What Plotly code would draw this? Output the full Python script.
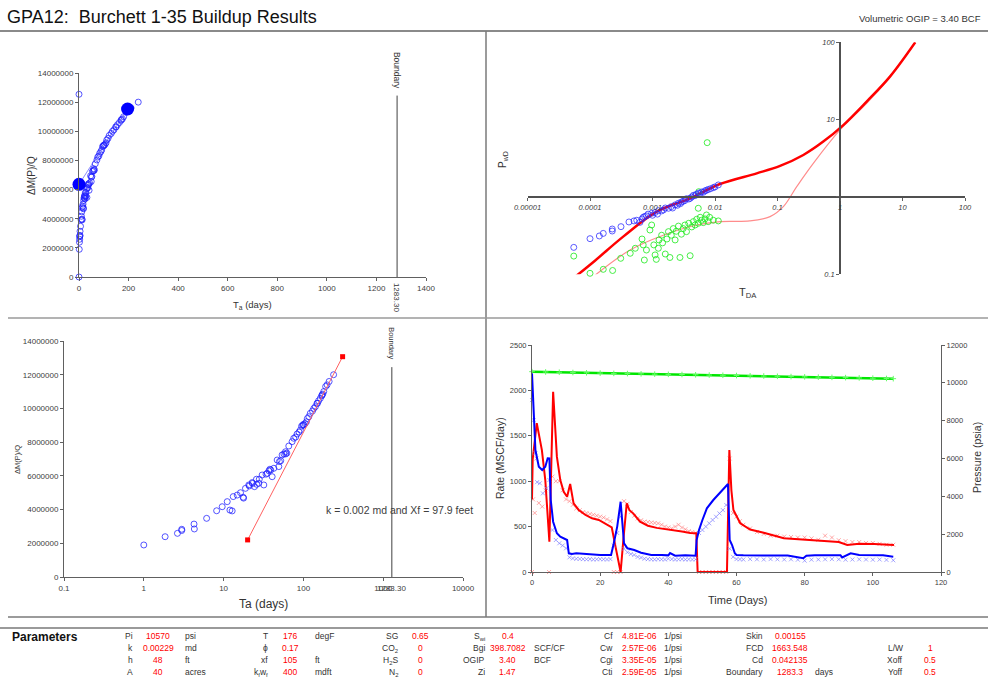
import math
import plotly.graph_objects as go

W, H = 988, 677
FONT = "Arial, Liberation Sans, sans-serif"

def X(px):
    return px / W

def Y(py):
    return 1 - py / H

# ---------------- data ----------------
# Shared Ta / dM(P)/Q points (panels 1 & 3)
ta_days = [0, 0, 1.0, 1.85, 2.64, 2.99, 2.99, 4.26, 4.3, 6.13, 8.18, 9.6, 11.1, 12.0, 12.8, 13.2,
           14.8, 16.3, 17.6, 17.8, 18.8, 20.7, 21.0, 22.8, 23.0, 24.4, 25.8, 26.0, 27.6, 28.0,
           30.4, 31.9, 34.0, 35.2, 37.0, 38.0, 39.0, 40.6, 42.6, 46.9, 49.2, 50.0, 52.0, 54.1,
           57.0, 59.6, 60.0, 62.0, 65.6, 72.2, 75.7, 80.0, 83.3, 88.0, 91.7, 95.0, 98.0, 100.0,
           101.0, 105.0, 109.0, 112.0, 117.0, 122.0, 130.0, 135.0, 141.0, 148.0, 150.0, 155.0,
           163.0, 170.0, 171.0, 175.0, 180.0, 190.0, 198.0, 210.0, 239.0]
dmpq = [12.54e6, 0, 1.90e6, 2.39e6, 2.59e6, 2.83e6, 2.76e6, 3.14e6, 2.85e6, 3.48e6, 3.93e6, 4.17e6,
        4.47e6, 3.97e6, 3.92e6, 4.77e6, 4.86e6, 5.00e6, 4.73e6, 4.68e6, 5.26e6, 5.46e6, 5.40e6,
        5.60e6, 5.55e6, 5.36e6, 5.80e6, 5.50e6, 5.56e6, 5.80e6, 6.05e6, 5.46e6, 6.10e6, 6.15e6,
        6.30e6, 6.39e6, 6.35e6, 5.95e6, 6.45e6, 6.94e6, 6.55e6, 6.85e6, 6.90e6, 7.24e6, 7.30e6,
        7.43e6, 7.30e6, 7.35e6, 7.77e6, 8.03e6, 8.23e6, 8.30e6, 8.48e6, 8.60e6, 8.72e6, 8.95e6,
        9.00e6, 9.05e6, 9.02e6, 9.10e6, 9.21e6, 9.40e6, 9.51e6, 9.71e6, 9.85e6, 10.0e6, 10.1e6,
        10.3e6, 10.3e6, 10.45e6, 10.6e6, 10.75e6, 10.8e6, 10.85e6, 11.0e6, 11.3e6, 11.4e6,
        11.6e6, 12.0e6]

cart_fit_ta = [0, 196]
cart_fit_dmpq = [6.36e6, 11.53e6]
log_fit_ta = [20, 310]
log_fit_dmpq = [2.2e6, 13.07e6]
boundary_days = 1283.3
boundary_top = 12.45e6

# Type-curve panel
tc_x = [6e-5, 1.2e-4, 3.4e-4, 1.17e-3, 3.98e-3, 1.2e-2, 4.65e-2, 0.11, 0.259, 0.54, 1.13, 2.67, 6.3, 16]
tc_y = [0.095, 0.15, 0.307, 0.645, 0.96, 1.47, 2.02, 2.52, 3.49, 5.2, 8.5, 17.1, 36, 100]
tc2_x = [1.16e-4, 4.37e-4, 1.49e-3, 5.1e-3, 1.2e-2, 3.6e-2, 7.6e-2, 0.124, 0.203, 0.374, 1.0, 2.67, 5.2, 16]
tc2_y = [0.095, 0.206, 0.32, 0.434, 0.48, 0.49, 0.557, 0.75, 1.36, 2.72, 7.36, 16.3, 29.6, 100]
pwd_x = [5.5e-5, 1.0e-4, 1.41e-4, 1.63e-4, 2.27e-4, 2.27e-4, 3.13e-4, 4.2e-4, 5.06e-4, 5.6e-4,
         6.3e-4, 7.1e-4, 8.0e-4, 9.7e-4, 1.1e-3, 1.24e-3, 1.5e-3, 1.8e-3, 2.0e-3, 2.3e-3, 2.6e-3,
         2.9e-3, 3.3e-3, 3.8e-3, 4.25e-3, 4.8e-3, 5.4e-3, 6.1e-3, 6.9e-3, 7.8e-3, 9.4e-3, 1.13e-2,
         8.5e-4, 1.0e-3, 1.2e-3, 1.4e-3, 1.6e-3, 2.1e-3, 2.5e-3, 2.8e-3, 3.1e-3, 3.5e-3, 4.0e-3,
         4.5e-3, 5.0e-3, 5.7e-3, 6.5e-3, 7.3e-3, 8.5e-3, 1.0e-2, 6.8e-4, 7.5e-4]
pwd_y = [0.223, 0.289, 0.313, 0.338, 0.363, 0.385, 0.413, 0.475, 0.49, 0.5, 0.47, 0.546, 0.57,
         0.615, 0.63, 0.665, 0.68, 0.714, 0.75, 0.79, 0.83, 0.86, 0.9, 0.94, 1.0, 1.04, 1.12, 1.16,
         1.2, 1.25, 1.32, 1.43, 0.6, 0.58, 0.6, 0.66, 0.72, 0.72, 0.78, 0.82, 0.88, 0.95, 0.96,
         1.05, 1.08, 1.1, 1.15, 1.22, 1.28, 1.35, 0.52, 0.56]
der_x = [5.5e-5, 1e-4, 1.63e-4, 2.3e-4, 3.1e-4, 4.4e-4, 5.3e-4, 6.8e-4, 7.1e-4, 7.4e-4, 8e-4,
         9.1e-4, 9.7e-4, 1.05e-3, 1.1e-3, 1.15e-3, 1.24e-3, 1.27e-3, 1.4e-3, 1.45e-3, 1.6e-3,
         1.7e-3, 1.8e-3, 1.9e-3, 2.0e-3, 2.15e-3, 2.3e-3, 2.4e-3, 2.6e-3, 2.75e-3, 2.9e-3, 3.1e-3,
         3.3e-3, 3.5e-3, 3.8e-3, 4.0e-3, 4.25e-3, 4.5e-3, 4.8e-3, 5.1e-3, 5.4e-3, 5.8e-3, 6.1e-3,
         6.5e-3, 6.9e-3, 7.3e-3, 7.8e-3, 8.2e-3, 9.4e-3, 1.13e-2, 5.4e-3, 5.5e-3, 7.5e-3]
der_y = [0.172, 0.103, 0.116, 0.112, 0.161, 0.187, 0.217, 0.286, 0.24, 0.153, 0.206, 0.374,
         0.434, 0.24, 0.178, 0.156, 0.217, 0.278, 0.32, 0.255, 0.183, 0.286, 0.356, 0.165, 0.32,
         0.39, 0.278, 0.36, 0.42, 0.165, 0.33, 0.39, 0.434, 0.356, 0.457, 0.174, 0.41, 0.48, 0.434,
         0.515, 0.457, 0.546, 0.5, 0.466, 0.52, 0.585, 0.48, 0.546, 0.5, 0.49, 0.714, 1.17, 5.04]

# Production history panel
t_rate = [0, 0.2, 1.4, 2.9, 3.9, 5.1, 6.2, 7.3, 8.3, 9.3, 10.3, 11.2, 12.2, 13.7, 15.7, 17.6, 19.6,
          21.5, 23.0, 23.4, 24.5, 26.0, 26.8, 27.8, 28.6, 29.7, 31.7, 34.0, 36.6, 39.0, 41.5, 44.0,
          46.4, 48.2, 48.6, 50.0, 53.0, 57.2, 57.9, 58.5, 59.1, 61.1, 64.0, 68.0, 73.9, 80.8, 87.6,
          90.0, 92.5, 96.0, 100.4, 103.0, 106.2]
rate = [800, 1240, 1640, 1343, 1013, 334, 1985, 1270, 1013, 884, 829, 969, 756, 683, 628, 591, 573,
        536, 500, 490, 280, 0, 352, 756, 680, 646, 555, 510, 486, 470, 457, 445, 430, 427, 0, 0, 0,
        0, 1343, 900, 682, 536, 468, 433, 371, 355, 338, 330, 297, 310, 308, 300, 297]
t_pres = [0, 0.5, 1.0, 2.0, 3.0, 3.9, 4.6, 5.1, 5.5, 6.2, 7.3, 8.3, 10.3, 10.8, 11.7, 13, 15, 18, 20,
          22, 23.2, 24, 25, 26, 26.5, 27, 28, 30, 32, 35, 38, 40, 40.5, 42, 45, 48, 48.3, 49, 50,
          51.3, 53.2, 55, 57, 57.5, 58, 58.7, 59.5, 60, 62, 65, 70, 75, 79.6, 80.5, 83, 87, 90.5,
          91, 92.5, 93.5, 96, 100, 103, 106]
pres = [10500, 8736, 6447, 5563, 5390, 5563, 6010, 6000, 3805, 2658, 2045, 1868, 1691, 987, 950, 987,
        950, 900, 897, 897, 897, 1516, 2400, 3715, 2658, 1516, 1252, 1163, 1021, 900, 900, 880, 1000,
        860, 880, 860, 1691, 2220, 2748, 3365, 3805, 4160, 4598, 4650, 1691, 1427, 987, 897, 880,
        870, 880, 870, 725, 860, 880, 880, 890, 770, 900, 990, 900, 890, 880, 811]
t_rate_pts = [0, 0.3, 0.8, 1.3] + list(range(2, 63)) + list(range(64, 107, 2))
rate_pts = [0, 800, 650, 1250,
            760, 720, 900, 0, 1050, 1000, 1000, 900, 800, 780, 740, 700, 680, 660, 650, 640, 630,
            620, 610, 600, 580, 560, 0, 0, 0, 780, 750, 660, 620, 590, 570, 555, 550, 545, 540, 535,
            520, 500, 490, 480, 500, 520, 490, 470, 450, 440, 430, 0, 0, 0, 0, 0, 0, 0, 0, 0, 1250,
            650, 610, 560, 520,
            480, 440, 420, 400, 400, 390, 385, 380, 380, 370, 355, 400, 380, 350, 340, 330, 330, 320,
            320, 310, 300, 300]
t_pres_pts = [0, 0.5, 1.0, 1.5, 2.3, 3.2, 4.2, 5.1] + list(range(6, 63)) + list(range(64, 107, 2))
pres_pts = [9090, 8031, 6290, 4750, 4690, 4157, 4422, 4862,
            2220, 1691, 1517, 1400, 1252, 776, 720, 700, 690, 680, 670, 680, 660, 670, 680, 670, 660,
            680, 1400, 2060, 2922, 1230, 1044, 950, 900, 800, 760, 700, 680, 670, 660, 680, 670, 660,
            700, 680, 660, 670, 680, 660, 670, 660, 670, 2060, 2220, 2400, 2573, 2750, 2920, 3097,
            3273, 3540, 1230, 800, 680, 670, 660,
            680, 670, 660, 680, 670, 660, 670, 650, 600, 650, 660, 670, 680, 670, 650, 660, 670, 660,
            650, 660, 640, 620]
t_res = list(range(0, 105, 4)) + [106]
res_pres = [10590, 10575, 10560, 10545, 10530, 10515, 10500, 10490, 10475, 10460, 10450, 10440,
            10425, 10410, 10400, 10385, 10370, 10360, 10345, 10330, 10315, 10300, 10290, 10275,
            10260, 10245, 10230, 10220]

# Parameter table
colA_lab = ["Pi", "k", "h", "A"]; colA_val = ["10570", "0.00229", "48", "40"]; colA_unit = ["psi", "md", "ft", "acres"]
colB_lab = ["T", "ϕ", "xf", "k<sub>f</sub>w<sub>f</sub>"]; colB_val = ["176", "0.17", "105", "400"]; colB_unit = ["degF", "", "ft", "mdft"]
colC_lab = ["SG", "CO<sub>2</sub>", "H<sub>2</sub>S", "N<sub>2</sub>"]; colC_val = ["0.65", "0", "0", "0"]
colD_lab = ["S<sub>wi</sub>", "Bgi", "OGIP", "Zi"]; colD_val = ["0.4", "398.7082", "3.40", "1.47"]; colD_unit = ["", "SCF/CF", "BCF", ""]
colE_lab = ["Cf", "Cw", "Cgi", "Cti"]; colE_val = ["4.81E-06", "2.57E-06", "3.35E-05", "2.59E-05"]; colE_unit = ["1/psi"] * 4
colF_lab = ["Skin", "FCD", "Cd", "Boundary"]; colF_val = ["0.00155", "1663.548", "0.042135", "1283.3"]; colF_unit = ["", "", "", "days"]
colG_lab = ["", "L/W", "Xoff", "Yoff"]; colG_val = ["", "1", "0.5", "0.5"]

# ---------------- figure ----------------
fig = go.Figure()

ring = dict(symbol="circle-open", size=6, color="rgba(30,30,255,0.75)", line=dict(width=1))

# Panel 1
fig.add_trace(go.Scatter(x=ta_days, y=dmpq, mode="markers", marker=ring, xaxis="x", yaxis="y", cliponaxis=False))
fig.add_trace(go.Scatter(x=cart_fit_ta, y=cart_fit_dmpq, mode="lines+markers",
                         line=dict(color="rgba(60,60,255,0.6)", width=1),
                         marker=dict(size=13, color="#0000FF"), xaxis="x", yaxis="y", cliponaxis=False))
fig.add_trace(go.Scatter(x=[boundary_days, boundary_days], y=[0, boundary_top], mode="lines",
                         line=dict(color="#404040", width=1), xaxis="x", yaxis="y"))

# Panel 2
fig.add_trace(go.Scatter(x=tc2_x, y=tc2_y, mode="lines", line=dict(color="#FF8C8C", width=1.2),
                         xaxis="x2", yaxis="y2", line_shape="spline"))
fig.add_trace(go.Scatter(x=tc_x, y=tc_y, mode="lines", line=dict(color="#FF0000", width=2.5),
                         xaxis="x2", yaxis="y2", line_shape="spline"))
fig.add_trace(go.Scatter(x=der_x, y=der_y, mode="markers",
                         marker=dict(symbol="circle-open", size=6, color="rgba(40,235,40,0.85)", line=dict(width=1)),
                         xaxis="x2", yaxis="y2", cliponaxis=False))
fig.add_trace(go.Scatter(x=pwd_x, y=pwd_y, mode="markers",
                         marker=dict(symbol="circle-open", size=6, color="rgba(40,40,255,0.75)", line=dict(width=1)),
                         xaxis="x2", yaxis="y2", cliponaxis=False))

# Panel 3
ta_pos = [t for t in ta_days if t > 0]
dmpq_pos = [d for t, d in zip(ta_days, dmpq) if t > 0]
fig.add_trace(go.Scatter(x=ta_pos, y=dmpq_pos, mode="markers", marker=ring, xaxis="x3", yaxis="y3", cliponaxis=False))
fig.add_trace(go.Scatter(x=log_fit_ta, y=log_fit_dmpq, mode="lines+markers",
                         line=dict(color="#FF6060", width=1), marker=dict(symbol="square", size=5, color="#FF0000"),
                         xaxis="x3", yaxis="y3", cliponaxis=False))
fig.add_trace(go.Scatter(x=[boundary_days, boundary_days], y=[0, boundary_top], mode="lines",
                         line=dict(color="#404040", width=1), xaxis="x3", yaxis="y3"))

# Panel 4
fig.add_trace(go.Scatter(x=t_res, y=res_pres, mode="lines+markers", line=dict(color="#00E600", width=2.5),
                         marker=dict(symbol="cross-thin-open", size=4, color="#66FF66", line=dict(width=1)),
                         xaxis="x4", yaxis="y5", cliponaxis=False))
fig.add_trace(go.Scatter(x=t_rate_pts, y=rate_pts, mode="markers",
                         marker=dict(symbol="x-thin-open", size=4, color="rgba(255,110,110,0.6)", line=dict(width=1, color="rgba(255,110,110,0.6)")),
                         xaxis="x4", yaxis="y4", cliponaxis=False))
fig.add_trace(go.Scatter(x=t_pres_pts, y=pres_pts, mode="markers",
                         marker=dict(symbol="x-thin-open", size=4, color="rgba(120,120,255,0.65)", line=dict(width=1, color="rgba(120,120,255,0.65)")),
                         xaxis="x4", yaxis="y5", cliponaxis=False))
fig.add_trace(go.Scatter(x=t_rate, y=rate, mode="lines", line=dict(color="#FF0000", width=2),
                         xaxis="x4", yaxis="y4", cliponaxis=False))
fig.add_trace(go.Scatter(x=t_pres, y=pres, mode="lines", line=dict(color="#0000FF", width=2),
                         xaxis="x4", yaxis="y5", cliponaxis=False))

tickfont = dict(family=FONT, size=8, color="#404040")
base = dict(showgrid=False, zeroline=False, showline=True, linecolor="#606060", linewidth=1,
            ticks="outside", ticklen=3, tickcolor="#606060", tickfont=tickfont, automargin=False)

fig.update_layout(
    width=W, height=H, autosize=False,
    margin=dict(l=0, r=0, t=0, b=0, pad=0, autoexpand=False),
    paper_bgcolor="white", plot_bgcolor="white",
    showlegend=False,
    font=dict(family=FONT),
    xaxis=dict(base, domain=[X(79), X(426)], range=[0, 1400], dtick=200, anchor="y"),
    yaxis=dict(base, domain=[Y(277), Y(73)], range=[0, 14e6], dtick=2e6, tickformat="d", anchor="x"),
    xaxis2=dict(base, type="log", domain=[X(527.5), X(965)], range=[-5, 2], anchor="free", position=Y(197),
                tickvals=[1e-5, 1e-4, 1e-3, 1e-2, 1e-1, 1, 10, 100],
                ticktext=["0.00001", "0.0001", "0.001", "0.01", "0.1", "1", "10", "100"],
                linecolor="#505050", linewidth=1.5,
                tickfont=dict(family=FONT, size=7.5, color="#404040", style="italic")),
    yaxis2=dict(base, type="log", domain=[Y(274.3), Y(42.3)], range=[-1, 2], anchor="free", position=X(840),
                tickvals=[0.1, 1, 10, 100], ticktext=["0.1", "", "10", "100"],
                linecolor="#505050", linewidth=1.5,
                tickfont=dict(family=FONT, size=7.5, color="#404040", style="italic")),
    xaxis3=dict(base, type="log", domain=[X(64), X(463)], range=[-1, 4], anchor="y3",
                tickvals=[0.1, 1, 10, 100, 1000, 10000], ticktext=["0.1", "1", "10", "100", "1000", "10000"]),
    yaxis3=dict(base, domain=[Y(577), Y(341)], range=[0, 14e6], dtick=2e6, tickformat="d", anchor="x3"),
    xaxis4=dict(base, domain=[X(532), X(941)], range=[0, 120], dtick=20, anchor="y4",
                tickfont=dict(family=FONT, size=7.5, color="#404040")),
    yaxis4=dict(base, domain=[Y(572), Y(345)], range=[0, 2500], dtick=500, anchor="x4",
                tickfont=dict(family=FONT, size=7.5, color="#404040")),
    yaxis5=dict(base, domain=[Y(572), Y(345)], range=[0, 12000], dtick=2000, anchor="x4", tickformat="d",
                overlaying="y4", side="right", tickfont=dict(family=FONT, size=7.5, color="#404040")),
)

shapes = []
def pline(x0, y0, x1, y1, color="#8a8a8a", width=2):
    shapes.append(dict(type="line", xref="paper", yref="paper", x0=X(x0), y0=Y(y0), x1=X(x1), y1=Y(y1),
                       line=dict(color=color, width=width)))
pline(0, 31, 988, 31, "#8a8a8a", 2)
pline(486, 31, 486, 617, "#7a7a7a", 1.5)
pline(8, 318, 988, 318, "#9a9a9a", 1.5)
pline(8, 617, 988, 617, "#7a7a7a", 1.5)
pline(0, 628, 988, 628, "#9a9a9a", 2)
fig.update_layout(shapes=shapes)

ann = []
def txt(text, px, py, size=9, color="#333333", xa="center", ya="middle", angle=0, bold=False, xref="paper", x=None):
    ann.append(dict(text=("<b>%s</b>" % text) if bold else text, xref=xref, yref="paper",
                    x=X(px) if x is None else x, y=Y(py), xanchor=xa, yanchor=ya, textangle=angle,
                    showarrow=False, font=dict(family=FONT, size=size, color=color)))

txt("GPA12:&nbsp; Burchett 1-35 Buildup Results", 5, 17, size=18, color="#111111", xa="left")
txt("Volumetric OGIP = 3.40 BCF", 983, 19, size=9.5, color="#333333", xa="right")

# Panel 1 texts
txt("ΔM(P)/Q", 31, 175, size=10, angle=-90)
txt("T<sub>a</sub> (days)", 252, 305, size=9.5)
txt("Boundary", 0, 70, size=8.5, angle=90, xref="x", x=boundary_days)
txt("1283.30", 0, 297, size=8, angle=90, xref="x", x=boundary_days)

# Panel 2 texts
txt("P<sub>wD</sub>", 503, 160, size=10, angle=-90)
txt("T<sub>DA</sub>", 748, 293, size=11)

# Panel 3 texts
txt("ΔM(P)/Q", 17, 460, size=7.5, angle=-90)
txt("Ta (days)", 263, 604, size=12)
txt("Boundary", 0, 343, size=7.5, angle=90, xref="x3", x=math.log10(boundary_days))
txt("1283.30", 0, 588, size=8, xref="x3", x=math.log10(boundary_days), color="#404040")
txt("k = 0.002 md and Xf = 97.9 feet", 399, 510, size=10.5, color="#404040")

# Panel 4 texts
txt("Rate (MSCF/day)", 500, 458, size=10.5, angle=-90)
txt("Pressure (psia)", 977, 458, size=10.5, angle=-90)
txt("Time (Days)", 737, 600, size=11)

# Parameters
txt("Parameters", 10, 637, size=12, color="#111111", xa="left", bold=True)
rows = [636, 648, 660, 672]
RED = "#FF0000"
LAB = "#333333"
PS = 8.5
def col(labels, values, units, lab_x, val_x, val_anchor, unit_x):
    for i, py in enumerate(rows):
        if labels[i]:
            txt(labels[i], lab_x, py, size=PS, color=LAB, xa="right")
        if values[i]:
            txt(values[i], val_x, py, size=PS, color=RED, xa=val_anchor)
        if units and units[i]:
            txt(units[i], unit_x, py, size=PS, color=LAB, xa="left")

col(colA_lab, colA_val, colA_unit, 135, 158, "center", 183)
col(colB_lab, colB_val, colB_unit, 270, 290, "center", 313)
col(colC_lab, colC_val, None, 400, 420, "center", 0)
col(colD_lab, colD_val, colD_unit, 487, 508, "center", 532)
col(colE_lab, colE_val, colE_unit, 615, 620, "left", 662)
col(colF_lab, colF_val, colF_unit, 765, 790, "center", 813)
col(colG_lab, colG_val, None, 905, 930, "center", 0)

fig.update_layout(annotations=ann)
fig.write_html("out.html")
